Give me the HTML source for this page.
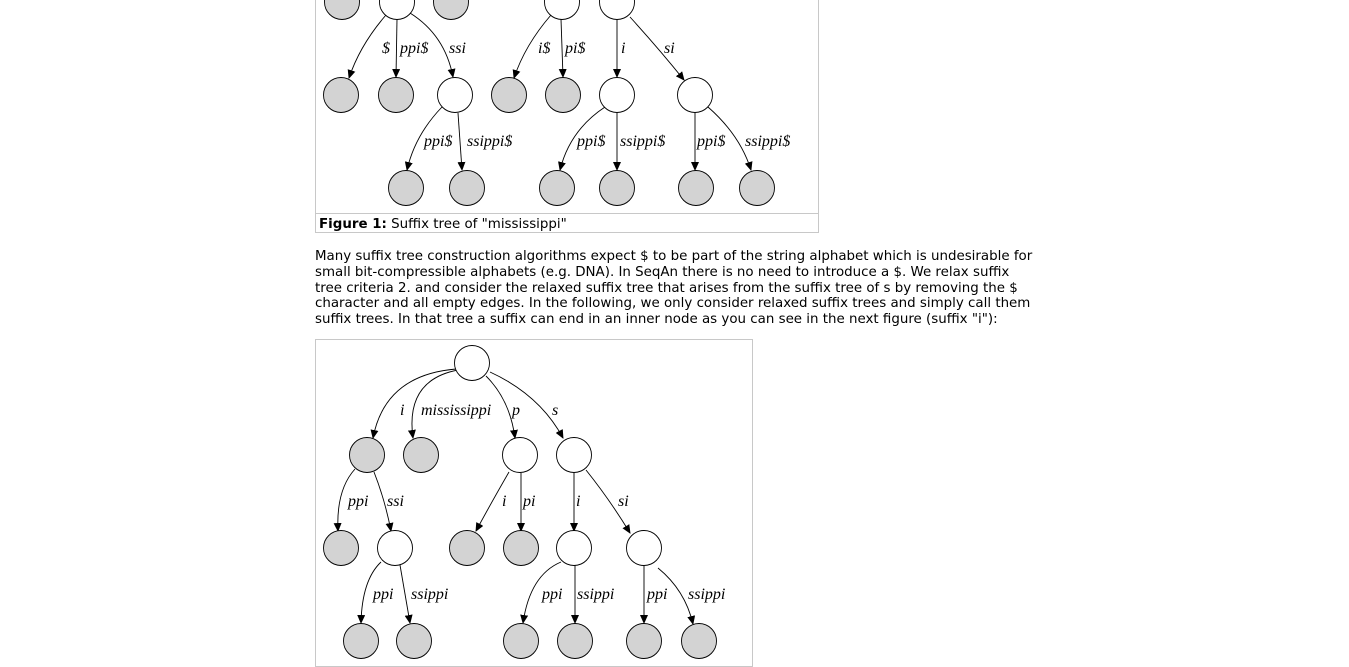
<!DOCTYPE html>
<html><head><meta charset="utf-8"><style>
html,body{margin:0;padding:0;background:#fff;width:1349px;height:667px;overflow:hidden;position:relative}
.t{position:absolute;left:315px;font-family:"DejaVu Sans","Liberation Sans",sans-serif;font-size:13.4px;white-space:nowrap;color:#000;line-height:16px}
svg{position:absolute;left:0;top:0}
.l{font-family:"Liberation Serif",serif;font-style:italic;font-size:16px}
</style></head><body>
<svg width="1349" height="667" viewBox="0 0 1349 667">
<defs><marker id="a" markerWidth="9" markerHeight="8" refX="8" refY="4" orient="auto" markerUnits="userSpaceOnUse"><path d="M0,0 L9,4 L0,8 z" fill="#000"/></marker></defs>
<rect x="315.5" y="-2" width="503" height="234.5" fill="none" stroke="#c8c8c8"/>
<line x1="315" y1="213.5" x2="818" y2="213.5" stroke="#c8c8c8"/>
<rect x="315.5" y="339.5" width="437" height="327" fill="none" stroke="#c8c8c8"/>
<g fill="none" stroke="#000" stroke-width="0.9" marker-end="url(#a)">
<path d="M386,15 Q360,45 349,78"/><path d="M397,19 L396,77"/><path d="M410,13 Q445,35 453,77"/>
<path d="M551,15 Q525,45 514,78"/><path d="M561,19 L563,77"/><path d="M617,20 L617,77"/>
<path d="M630,17 Q660,50 684,80"/><path d="M442,107 Q415,135 407,170"/><path d="M458,113 L462,170"/>
<path d="M605,107 Q570,130 560,170"/><path d="M617,113 L617,170"/><path d="M695,113 L695,170"/>
<path d="M708,107 Q740,135 751,170"/>
<path d="M456,369 Q385,375 373,438"/><path d="M458,370 Q405,380 413,438"/><path d="M486,376 Q510,400 515,438"/>
<path d="M490,372 Q540,395 563,438"/><path d="M355,469 Q336,490 338,531"/><path d="M374,472 Q385,500 391,531"/>
<path d="M509,472 Q490,505 476,531"/><path d="M521,473 L521,531"/><path d="M574,473 L574,531"/>
<path d="M586,470 Q610,500 630,533"/><path d="M381,562 Q362,580 361,623"/><path d="M400,565 L410,623"/>
<path d="M561,562 Q530,575 523,623"/><path d="M575,565 L575,623"/><path d="M644,566 L644,623"/>
<path d="M658,568 Q685,590 693,624"/>
</g>
<g stroke="#000" stroke-width="0.9">
<g fill="#d3d3d3">
<circle cx="342" cy="2" r="17.5"/><circle cx="451" cy="2" r="17.5"/>
<circle cx="341" cy="95" r="17.5"/><circle cx="396" cy="95" r="17.5"/><circle cx="509" cy="95" r="17.5"/><circle cx="563" cy="95" r="17.5"/>
<circle cx="406" cy="188" r="17.5"/><circle cx="467" cy="188" r="17.5"/><circle cx="557" cy="188" r="17.5"/><circle cx="617" cy="188" r="17.5"/><circle cx="696" cy="188" r="17.5"/><circle cx="757" cy="188" r="17.5"/>
<circle cx="367" cy="455" r="17.5"/><circle cx="421" cy="455" r="17.5"/>
<circle cx="341" cy="548" r="17.5"/><circle cx="467" cy="548" r="17.5"/><circle cx="521" cy="548" r="17.5"/>
<circle cx="361" cy="641" r="17.5"/><circle cx="414" cy="641" r="17.5"/><circle cx="521" cy="641" r="17.5"/><circle cx="575" cy="641" r="17.5"/><circle cx="644" cy="641" r="17.5"/><circle cx="699" cy="641" r="17.5"/>
</g>
<g fill="#fff">
<circle cx="397" cy="2" r="17.5"/><circle cx="562" cy="2" r="17.5"/><circle cx="617" cy="2" r="17.5"/>
<circle cx="455" cy="95" r="17.5"/><circle cx="617" cy="95" r="17.5"/><circle cx="695" cy="95" r="17.5"/>
<circle cx="472" cy="363" r="17.5"/><circle cx="520" cy="455" r="17.5"/><circle cx="574" cy="455" r="17.5"/>
<circle cx="395" cy="548" r="17.5"/><circle cx="574" cy="548" r="17.5"/><circle cx="644" cy="548" r="17.5"/>
</g></g>
<g class="l">
<text x="382" y="53">$</text><text x="400" y="53">ppi$</text><text x="449" y="53">ssi</text>
<text x="538" y="53">i$</text><text x="565" y="53">pi$</text><text x="621" y="53">i</text><text x="664" y="53">si</text>
<text x="424" y="146">ppi$</text><text x="467" y="146">ssippi$</text><text x="577" y="146">ppi$</text><text x="620" y="146">ssippi$</text>
<text x="697" y="146">ppi$</text><text x="745" y="146">ssippi$</text>
<text x="400" y="415">i</text><text x="421" y="415">mississippi</text><text x="512" y="415">p</text><text x="552" y="415">s</text>
<text x="348" y="506">ppi</text><text x="387" y="506">ssi</text><text x="502" y="506">i</text><text x="523" y="506">pi</text>
<text x="576" y="506">i</text><text x="618" y="506">si</text>
<text x="373" y="599">ppi</text><text x="411" y="599">ssippi</text><text x="542" y="599">ppi</text><text x="577" y="599">ssippi</text>
<text x="647" y="599">ppi</text><text x="688" y="599">ssippi</text>
</g>
</svg>
<div class="t" style="left:319px;top:217px"><b>Figure 1:</b> Suffix tree of "mississippi"</div>
<div class="t" style="top:249px">Many suffix tree construction algorithms expect $ to be part of the string alphabet which is undesirable for</div>
<div class="t" style="top:265px">small bit-compressible alphabets (e.g. DNA). In SeqAn there is no need to introduce a $. We relax suffix</div>
<div class="t" style="top:281px">tree criteria 2. and consider the relaxed suffix tree that arises from the suffix tree of s by removing the $</div>
<div class="t" style="top:296px">character and all empty edges. In the following, we only consider relaxed suffix trees and simply call them</div>
<div class="t" style="top:312px">suffix trees. In that tree a suffix can end in an inner node as you can see in the next figure (suffix "i"):</div>
</body></html>
